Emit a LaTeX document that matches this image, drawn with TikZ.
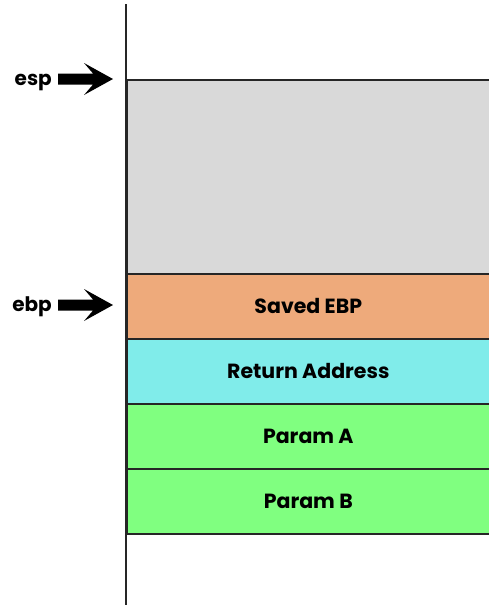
\documentclass[tikz,border=0pt]{standalone}
\usepackage{fontspec}
\setmainfont{Poppins}[BoldFont={* Bold}]
\definecolor{freegray}{HTML}{D9D9D9}
\definecolor{ebpcol}{HTML}{EEAA7B}
\definecolor{retcol}{HTML}{80ECEA}
\definecolor{paramcol}{HTML}{80FF80}
\begin{document}
\begin{tikzpicture}[x=1pt,y=-1pt,
  slot/.style={draw=black!85, line width=1.6pt, minimum width=363pt, minimum height=65pt,
    inner sep=0pt, anchor=north west, font=\fontsize{20.5}{24}\selectfont\bfseries},
  reglabel/.style={font=\fontsize{20}{24}\selectfont\bfseries, anchor=base east, inner sep=0pt},
  bigarrow/.style={fill=black}]
\useasboundingbox (0,0) rectangle (489,605);
% stack slots, top of stack at the top
\node[slot, fill=freegray, minimum height=194pt] (free) at (126,79) {};
\node[slot, fill=ebpcol] (ebp) at (126,273) {Saved EBP};
\node[slot, fill=retcol] (ret) at (126,338) {Return Address};
\node[slot, fill=paramcol] (pa) at (126,403) {Param A};
\node[slot, fill=paramcol] (pb) at (126,468) {Param B};
% stack axis
\coordinate (axtop) at (126,4);
\coordinate (axbot) at (126,605);
\draw[line width=2pt, black!85] (axtop) -- (axbot);
% register pointers
\foreach \nm/\yy in {esp/79, ebp/305}{
  \coordinate (\nm tip) at (113,\yy);
  \fill[bigarrow] (58,\yy-5.5) -- (93,\yy-5.5) -- (84,\yy-16) -- (\nm tip) -- (84,\yy+16) -- (93,\yy+5.5) -- (58,\yy+5.5) -- cycle;
  \node[reglabel] (\nm lbl) at (52,\yy+6) {\nm};
}
\end{tikzpicture}
\end{document}
